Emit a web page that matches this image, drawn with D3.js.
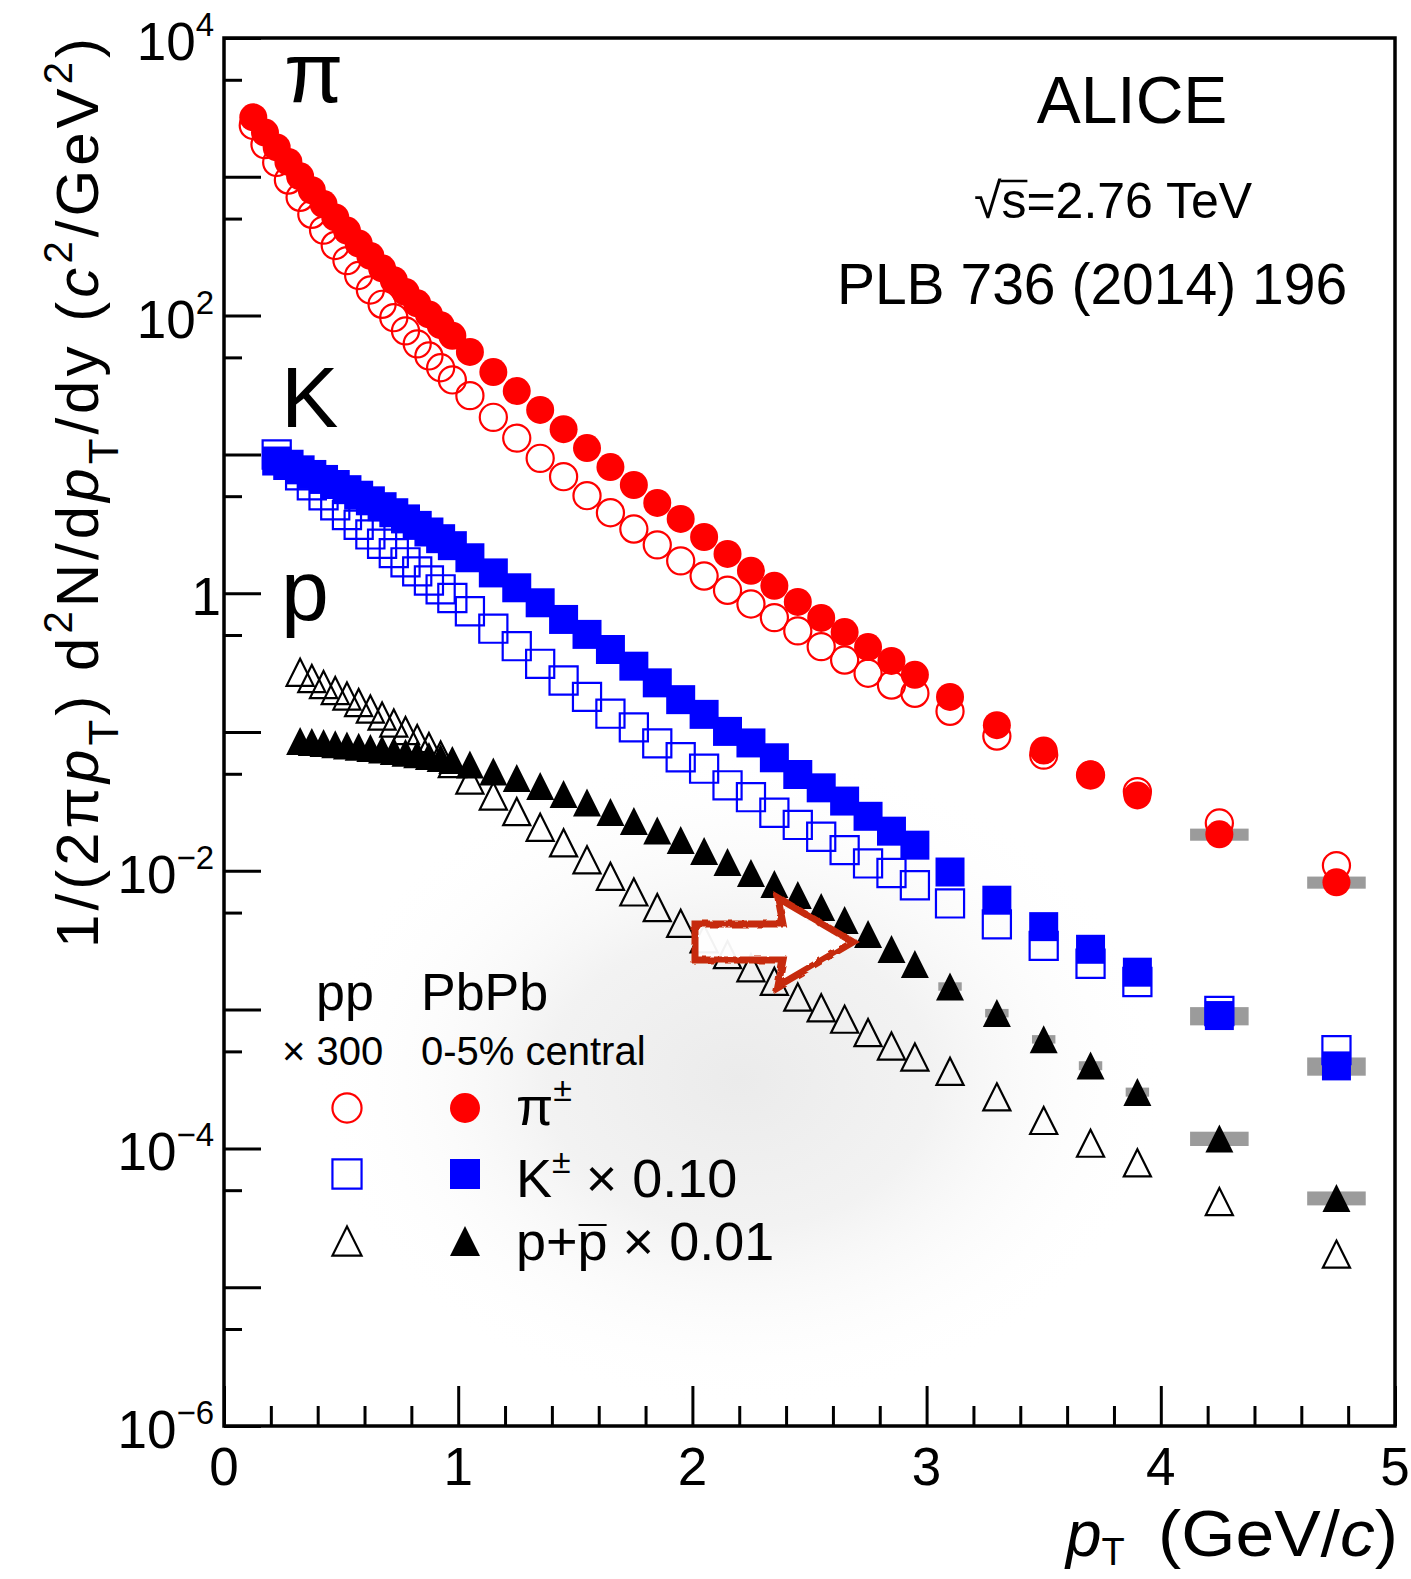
<!DOCTYPE html>
<html>
<head>
<meta charset="utf-8">
<script src="https://cdn.jsdelivr.net/npm/d3@7"></script>
<style>
  body { margin: 0; background: #ffffff; }
  svg { display: block; }
  text { font-family: "Liberation Sans", Arial, Helvetica, sans-serif; fill: #000; }
</style>
</head>
<body>
<svg id="chart" width="1411" height="1579"></svg>
<script>
// ---- transverse-momentum bin centres (GeV/c) ----
const ptPion = [0.125, 0.175, 0.225, 0.275, 0.325, 0.375, 0.425, 0.475, 0.525, 0.575, 0.625, 0.675, 0.725, 0.775, 0.825, 0.875, 0.925, 0.975,
  1.05, 1.15, 1.25, 1.35, 1.45, 1.55, 1.65, 1.75, 1.85, 1.95, 2.05, 2.15, 2.25, 2.35, 2.45, 2.55, 2.65, 2.75, 2.85, 2.95,
  3.1, 3.3, 3.5, 3.7, 3.9, 4.25, 4.75];
const ptKaon = [0.225, 0.275, 0.325, 0.375, 0.425, 0.475, 0.525, 0.575, 0.625, 0.675, 0.725, 0.775, 0.825, 0.875, 0.925, 0.975,
  1.05, 1.15, 1.25, 1.35, 1.45, 1.55, 1.65, 1.75, 1.85, 1.95, 2.05, 2.15, 2.25, 2.35, 2.45, 2.55, 2.65, 2.75, 2.85, 2.95,
  3.1, 3.3, 3.5, 3.7, 3.9, 4.25, 4.75];
const ptProton = [0.325, 0.375, 0.425, 0.475, 0.525, 0.575, 0.625, 0.675, 0.725, 0.775, 0.825, 0.875, 0.925, 0.975,
  1.05, 1.15, 1.25, 1.35, 1.45, 1.55, 1.65, 1.75, 1.85, 1.95, 2.05, 2.15, 2.25, 2.35, 2.45, 2.55, 2.65, 2.75, 2.85, 2.95,
  3.1, 3.3, 3.5, 3.7, 3.9, 4.25, 4.75];

// ---- Pb-Pb 0-5% spectra (kaons x0.10, protons x0.01) ----
const pionPbPb = [2680, 2081, 1629, 1279, 1008, 800, 636, 510, 410, 331, 269, 219, 180, 148, 122.6, 102, 85.3, 71.5,
  54.7, 39.2, 28.6, 20.9, 15.2, 11.1, 8.11, 6.02, 4.47, 3.43, 2.54, 1.92, 1.45, 1.13, 0.865, 0.663, 0.525, 0.409, 0.325, 0.258,
  0.179, 0.112, 0.0735, 0.0495, 0.0349, 0.0183, 0.00826];
const kaonPbPb = [8.96, 8.35, 7.74, 7.17, 6.60, 6.07, 5.57, 5.08, 4.63, 4.20, 3.80, 3.43, 3.08, 2.76, 2.47, 2.20,
  1.80, 1.40, 1.094, 0.853, 0.647, 0.505, 0.393, 0.298, 0.226, 0.171, 0.134, 0.101, 0.0834, 0.0652, 0.0494, 0.0396, 0.0318, 0.0247, 0.0193, 0.0153,
  0.0098, 0.00614, 0.00396, 0.00272, 0.00186, 0.000906, 0.000393];
const protonPbPb = [0.0861, 0.0847, 0.0833, 0.0817, 0.0801, 0.0783, 0.0767, 0.0748, 0.0729, 0.0710, 0.0691, 0.0671, 0.0650, 0.0629,
  0.0583, 0.0520, 0.0466, 0.0408, 0.0357, 0.0311, 0.0265, 0.0228, 0.0195, 0.0167, 0.0139, 0.01157, 0.00964, 0.00803, 0.00669, 0.00548, 0.00442, 0.00350, 0.00273, 0.00213,
  0.00147, 0.000945, 0.000612, 0.000395, 0.000255, 0.000118, 0.0000439];

// ---- pp spectra scaled by 300 (same species scaling) ----
const pionPP = [2346, 1706, 1270, 948, 712, 537, 413, 320, 249, 194.5, 152.9, 120.6, 96.6, 77.6, 62.6, 51.2, 42.1, 34.4,
  26.5, 18.5, 13.1, 9.37, 6.91, 5.04, 3.80, 2.90, 2.23, 1.71, 1.33, 1.05, 0.836, 0.667, 0.535, 0.412, 0.330, 0.265, 0.218, 0.190,
  0.141, 0.0935, 0.0681, 0.049, 0.0372, 0.0221, 0.0109];
const kaonPP = [9.98, 8.40, 7.08, 5.99, 5.07, 4.30, 3.65, 3.11, 2.65, 2.27, 1.945, 1.67, 1.436, 1.235, 1.067, 0.923,
  0.741, 0.555, 0.415, 0.310, 0.235, 0.179, 0.1355, 0.108, 0.0828, 0.0658, 0.0544, 0.0413, 0.0339, 0.0262, 0.0214, 0.0176, 0.0141, 0.0113, 0.00964, 0.00787,
  0.00582, 0.00411, 0.00288, 0.00214, 0.00158, 0.000977, 0.00051];
const protonPP = [0.2692, 0.2428, 0.2199, 0.1991, 0.1817, 0.1631, 0.1464, 0.1304, 0.1161, 0.1025, 0.0898, 0.0786, 0.0683, 0.0593,
  0.0451, 0.0346, 0.0267, 0.0206, 0.0159, 0.0120, 0.00913, 0.00704, 0.00543, 0.00419, 0.00324, 0.00249, 0.00200, 0.00160, 0.00123, 0.00103, 0.000853, 0.000683, 0.000547, 0.000455,
  0.000359, 0.000235, 0.000159, 0.000109, 0.0000787, 0.0000414, 0.0000173];

// ---- Pb-Pb systematic uncertainties (relative) at high pT ----
const sysPt = [3.1, 3.3, 3.5, 3.7, 3.9, 4.25, 4.75];
const sysHalfWidth = [0.05, 0.05, 0.05, 0.05, 0.05, 0.125, 0.125];
const pionSys = [0.08, 0.08, 0.08, 0.09, 0.09, 0.10, 0.10];
const kaonSys = [0.10, 0.10, 0.11, 0.12, 0.13, 0.15, 0.15];
const protonSys = [0.07, 0.07, 0.07, 0.075, 0.075, 0.118, 0.115];

// ---- axis ticks ----
const xMajor = [0, 1, 2, 3, 4, 5];
const xMinor = [0.2, 0.4, 0.6, 0.8, 1.2, 1.4, 1.6, 1.8, 2.2, 2.4, 2.6, 2.8, 3.2, 3.4, 3.6, 3.8, 4.2, 4.4, 4.6, 4.8];
const yMajor = [1e-6, 1e-5, 1e-4, 1e-3, 1e-2, 1e-1, 1, 1e1, 1e2, 1e3, 1e4];
const yMinor = [5e-6, 5e-5, 5e-4, 5e-3, 5e-2, 5e-1, 5, 5e1, 5e2, 5e3];
const yLabels = [
  { v: 1e4, exp: "4" }, { v: 1e2, exp: "2" }, { v: 1, exp: null },
  { v: 1e-2, exp: "\u22122" }, { v: 1e-4, exp: "\u22124" }, { v: 1e-6, exp: "\u22126" }
];

// ---- layout ----
const svg = d3.select("#chart");
const L = 224, R = 1395, T = 38, B = 1426;
const x = d3.scaleLinear().domain([0, 5]).range([L, R]);
const y = d3.scaleLog().domain([1e-6, 1e4]).range([B, T]);

const RED = "#ff0000", BLUE = "#0000ff", BLACK = "#000000", GREY = "#9b9b9b";

const defs = svg.append("defs");
const grad = defs.append("radialGradient").attr("id", "haze");
grad.append("stop").attr("offset", "0%").attr("stop-color", "#ebebeb").attr("stop-opacity", 1);
grad.append("stop").attr("offset", "45%").attr("stop-color", "#f0f0f0").attr("stop-opacity", 0.85);
grad.append("stop").attr("offset", "100%").attr("stop-color", "#ffffff").attr("stop-opacity", 0);
defs.append("clipPath").attr("id", "plotClip")
  .append("rect").attr("x", L).attr("y", T).attr("width", R - L).attr("height", B - T);
const rough = defs.append("filter").attr("id", "rough").attr("x", "-10%").attr("y", "-20%").attr("width", "120%").attr("height", "140%");
rough.append("feTurbulence").attr("type", "fractalNoise").attr("baseFrequency", 0.12).attr("numOctaves", 2).attr("seed", 4).attr("result", "noise");
rough.append("feDisplacementMap").attr("in", "SourceGraphic").attr("in2", "noise").attr("scale", 4);

// soft grey shading behind the lower part of the plot
svg.append("g").attr("clip-path", "url(#plotClip)")
  .append("ellipse").attr("cx", 740).attr("cy", 1080).attr("rx", 430).attr("ry", 330)
  .attr("fill", "url(#haze)");

// ---- marker shapes ----
const shapePath = {
  circle: s => { const r = s / 2; return `M${-r},0a${r},${r} 0 1,0 ${2 * r},0a${r},${r} 0 1,0 ${-2 * r},0Z`; },
  square: s => `M${-s / 2},${-s / 2}h${s}v${s}h${-s}Z`,
  triangle: s => `M0,${-s / 2}L${s / 2},${s / 2}L${-s / 2},${s / 2}Z`
};
const markerSize = { circle: 28, square: 29, triangle: 28 };

function drawMarker(g, shape, color, filled, size) {
  const sw = 2.2;
  return g.append("path")
    .attr("d", shapePath[shape](filled ? size : size - sw * 0.4))
    .attr("fill", filled ? color : "none")
    .attr("stroke", filled ? "none" : color)
    .attr("stroke-width", filled ? 0 : sw);
}

// ---- systematic boxes (Pb-Pb, drawn under the markers) ----
const sysSets = [
  { pt: ptPion, val: pionPbPb, rel: pionSys },
  { pt: ptKaon, val: kaonPbPb, rel: kaonSys },
  { pt: ptProton, val: protonPbPb, rel: protonSys }
];
const gSys = svg.append("g");
sysSets.forEach(s => {
  const rows = sysPt.map((p, i) => {
    const v = s.val[s.pt.indexOf(p)];
    return { p, hw: sysHalfWidth[i], lo: v * (1 - s.rel[i]), hi: v * (1 + s.rel[i]) };
  });
  gSys.selectAll(null).data(rows).enter().append("rect")
    .attr("x", d => x(d.p - d.hw)).attr("width", d => x(d.p + d.hw) - x(d.p - d.hw))
    .attr("y", d => y(d.hi)).attr("height", d => y(d.lo) - y(d.hi))
    .attr("fill", GREY);
});

// ---- data points ----
const seriesList = [
  { pt: ptPion, val: pionPP, shape: "circle", color: RED, filled: false },
  { pt: ptKaon, val: kaonPP, shape: "square", color: BLUE, filled: false },
  { pt: ptProton, val: protonPP, shape: "triangle", color: BLACK, filled: false },
  { pt: ptPion, val: pionPbPb, shape: "circle", color: RED, filled: true },
  { pt: ptKaon, val: kaonPbPb, shape: "square", color: BLUE, filled: true },
  { pt: ptProton, val: protonPbPb, shape: "triangle", color: BLACK, filled: true }
];
const gPts = svg.append("g");
seriesList.forEach(s => {
  const pts = s.pt.map((p, i) => ({ p, v: s.val[i] }));
  gPts.append("g").selectAll("g").data(pts).enter().append("g")
    .attr("transform", d => `translate(${x(d.p)},${y(d.v)})`)
    .each(function () { drawMarker(d3.select(this), s.shape, s.color, s.filled, markerSize[s.shape]); });
});

// ---- hand-drawn arrow annotation ----
svg.append("path")
  .attr("d", "M695,924 L783,924 L778,898 L853,942 L778,986 L783,960 L695,960 Z")
  .attr("fill", "#ffffff").attr("fill-opacity", 0.95)
  .attr("stroke", "#c62a0a").attr("stroke-width", 7).attr("stroke-linejoin", "miter")
  .attr("filter", "url(#rough)");

// ---- axes ----
function styleAxis(g) {
  g.select(".domain").remove();
  g.selectAll(".tick line").attr("stroke", "#000").attr("stroke-width", 3);
  g.selectAll(".tick text").remove();
}
svg.append("g").attr("transform", `translate(${L},0)`)
  .call(d3.axisLeft(y).tickValues(yMajor).tickSize(-37).tickFormat(() => "")).call(styleAxis);
svg.append("g").attr("transform", `translate(${L},0)`)
  .call(d3.axisLeft(y).tickValues(yMinor).tickSize(-18).tickFormat(() => "")).call(styleAxis);
svg.append("g").attr("transform", `translate(0,${B})`)
  .call(d3.axisBottom(x).tickValues(xMajor).tickSize(-40).tickFormat(() => "")).call(styleAxis);
svg.append("g").attr("transform", `translate(0,${B})`)
  .call(d3.axisBottom(x).tickValues(xMinor).tickSize(-20).tickFormat(() => "")).call(styleAxis);

svg.append("rect").attr("x", L).attr("y", T).attr("width", R - L).attr("height", B - T)
  .attr("fill", "none").attr("stroke", "#000").attr("stroke-width", 3.5);

// tick labels
svg.append("g").selectAll("text").data(xMajor).enter().append("text")
  .attr("x", d => x(d)).attr("y", B + 59).attr("text-anchor", "middle")
  .attr("font-size", 53).text(d => d);

const gy = svg.append("g");
yLabels.forEach(l => {
  if (l.exp === null) {
    gy.append("text").attr("x", 221).attr("y", y(l.v) + 22).attr("text-anchor", "end")
      .attr("font-size", 53).text("1");
  } else {
    const t = gy.append("text").attr("x", 214).attr("y", y(l.v) + 22).attr("text-anchor", "end")
      .attr("font-size", 53);
    t.append("tspan").text("10");
    t.append("tspan").attr("font-size", 33).attr("dy", -24).text(l.exp);
  }
});

// rich text helper: parts with italic / sub / sup
function rich(parent, parts, opt) {
  const t = parent.append("text").attr("font-size", opt.size);
  let cur = 0;
  parts.forEach(p => {
    const shift = p.sub ? opt.subShift : p.sup ? opt.supShift : 0;
    const ts = t.append("tspan").text(p.t).attr("dy", shift - cur);
    cur = shift;
    if (p.sub) ts.attr("font-size", opt.subSize);
    if (p.sup) ts.attr("font-size", opt.supSize);
    if (p.it) ts.attr("font-style", "italic");
  });
  return t;
}

// y-axis title
const yTitle = rich(svg.append("g").attr("transform", "translate(98,948) rotate(-90)"), [
  { t: "1/(2\u03c0" }, { t: "p", it: true }, { t: "T", sub: true }, { t: ") d" }, { t: "2", sup: true },
  { t: "N/d" }, { t: "p", it: true }, { t: "T", sub: true }, { t: "/dy (" }, { t: "c", it: true },
  { t: "2", sup: true }, { t: "/GeV" }, { t: "2", sup: true }, { t: ")" }
], { size: 60, subSize: 42, subShift: 20, supSize: 40, supShift: -26 });
yTitle.attr("textLength", 910).attr("lengthAdjust", "spacing");

// x-axis title
const gx = svg.append("g");
rich(gx.append("g").attr("transform", "translate(1066,1556)"), [
  { t: "p", it: true }, { t: "T", sub: true }
], { size: 64, subSize: 38, subShift: 9 });
const unit = rich(gx.append("g").attr("transform", "translate(1158,1556)"), [
  { t: "(GeV/" }, { t: "c", it: true }, { t: ")" }
], { size: 64 });
unit.attr("textLength", 240).attr("lengthAdjust", "spacingAndGlyphs");

// species labels
svg.append("text").attr("x", 284).attr("y", 102).attr("font-size", 86).text("\u03c0");
svg.append("text").attr("x", 281).attr("y", 427).attr("font-size", 86).text("K");
svg.append("text").attr("x", 281).attr("y", 620).attr("font-size", 86).text("p");

// experiment block
svg.append("text").attr("x", 1132).attr("y", 123).attr("text-anchor", "middle").attr("font-size", 66).text("ALICE");
const sq = svg.append("text").attr("x", 1113).attr("y", 218).attr("text-anchor", "middle").attr("font-size", 50);
sq.append("tspan").text("\u221a");
sq.append("tspan").text("s");
sq.append("tspan").text("=2.76 TeV");
{
  const ext = sq.node().getExtentOfChar(1);
  svg.append("line").attr("x1", ext.x - 1).attr("x2", ext.x + ext.width + 1)
    .attr("y1", 181).attr("y2", 181).attr("stroke", "#000").attr("stroke-width", 2.5);
}
svg.append("text").attr("x", 1092).attr("y", 304).attr("text-anchor", "middle").attr("font-size", 57)
  .text("PLB 736 (2014) 196");

// ---- legend ----
const gl = svg.append("g");
gl.append("text").attr("x", 316).attr("y", 1010).attr("font-size", 52).text("pp");
gl.append("text").attr("x", 421).attr("y", 1010).attr("font-size", 52).text("PbPb");
gl.append("text").attr("x", 282).attr("y", 1065).attr("font-size", 40).text("\u00d7 300");
gl.append("text").attr("x", 421).attr("y", 1065).attr("font-size", 40).text("0-5% central");

const legendRows = [
  { shape: "circle", color: RED, cy: 1108 },
  { shape: "square", color: BLUE, cy: 1174 },
  { shape: "triangle", color: BLACK, cy: 1241 }
];
legendRows.forEach(r => {
  drawMarker(gl.append("g").attr("transform", `translate(347,${r.cy})`), r.shape, r.color, false, 30);
  drawMarker(gl.append("g").attr("transform", `translate(465,${r.cy})`), r.shape, r.color, true, 30);
});
{
  const t1 = gl.append("text").attr("x", 516).attr("y", 1125).attr("font-size", 54);
  t1.append("tspan").text("\u03c0");
  t1.append("tspan").attr("font-size", 34).attr("dy", -24).text("\u00b1");

  const t2 = gl.append("text").attr("x", 516).attr("y", 1197).attr("font-size", 54);
  t2.append("tspan").text("K");
  t2.append("tspan").attr("font-size", 34).attr("dy", -24).text("\u00b1");
  t2.append("tspan").attr("dy", 24).text(" \u00d7 0.10");

  const t3 = gl.append("text").attr("x", 516).attr("y", 1260).attr("font-size", 54);
  t3.append("tspan").text("p+p");
  t3.append("tspan").text(" \u00d7 0.01");
  const ext = t3.node().getExtentOfChar(2);
  gl.append("line").attr("x1", ext.x + 1).attr("x2", ext.x + ext.width - 1)
    .attr("y1", 1225).attr("y2", 1225).attr("stroke", "#000").attr("stroke-width", 2);
}
</script>
</body>
</html>
